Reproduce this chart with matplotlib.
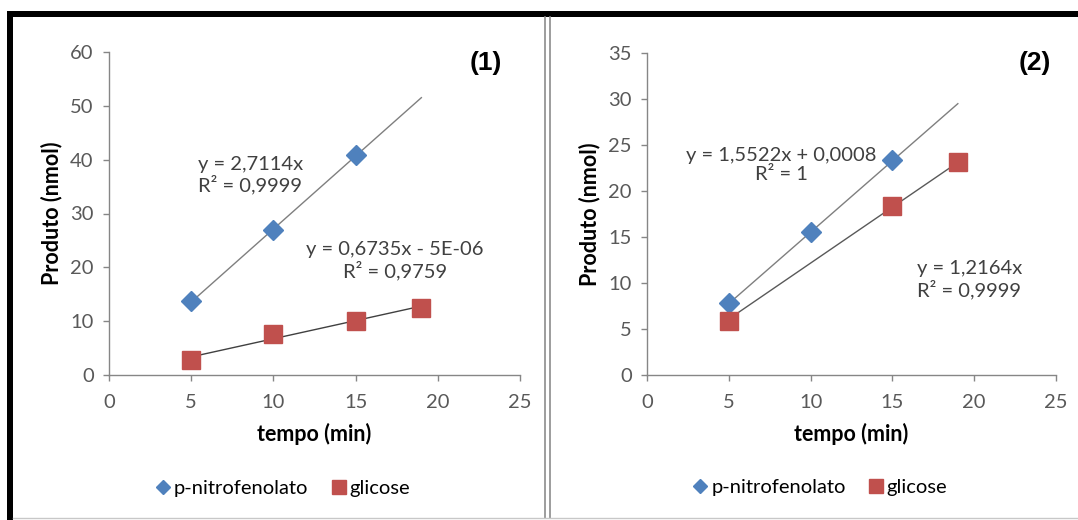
import matplotlib
matplotlib.use("Agg")
import matplotlib.pyplot as plt
import numpy as np
from matplotlib.lines import Line2D
from matplotlib.patches import Rectangle

plt.rcParams["font.family"] = ["Lato", "DejaVu Sans"]

# data
tempo_pnp_1 = [5, 10, 15]
pnp_1 = [13.8, 26.9, 40.9]
tempo_gli_1 = [5, 10, 15, 19]
gli_1 = [2.8, 7.6, 10.1, 12.5]

tempo_pnp_2 = [5, 10, 15]
pnp_2 = [7.8, 15.5, 23.4]
tempo_gli_2 = [5, 15, 19]
gli_2 = [5.9, 18.4, 23.1]

# trend lines as printed on the chart (slope, intercept)
fit_pnp_1 = (2.7114, 0.0)
fit_gli_1 = (0.6735, -5e-06)
fit_pnp_2 = (1.5522, 0.0008)
fit_gli_2 = (1.2164, 0.0)
trend_range = [5, 19]

BLUE = "#4F81BD"
RED = "#C0504D"
AXIS = "#868686"
TICKTXT = "#595959"
FS = 14.5


def style_axes(ax, ymax, ystep):
    ax.set_xlim(0, 25)
    ax.set_ylim(0, ymax)
    ax.set_xticks(range(0, 26, 5))
    ax.set_yticks(np.arange(0, ymax + 0.1, ystep))
    for side in ("top", "right"):
        ax.spines[side].set_visible(False)
    for side in ("left", "bottom"):
        ax.spines[side].set_color(AXIS)
        ax.spines[side].set_linewidth(1.0)
    ax.tick_params(direction="out", length=4, width=1, color=AXIS,
                   labelcolor=TICKTXT, labelsize=FS)
    ax.tick_params(axis="x", pad=10)
    ax.tick_params(axis="y", pad=7)
    ax.set_xlabel("tempo (min)", fontsize=15.5, fontweight="bold", labelpad=8)
    ax.set_ylabel("Produto (nmol)", fontsize=15.5, fontweight="bold", labelpad=6)
    ax.patch.set_alpha(0)


def trend(ax, fit, color):
    xs = np.array(trend_range, dtype=float)
    ax.plot(xs, fit[0] * xs + fit[1], color=color, lw=1.0, zorder=2)


def legend(ax, xc):
    handles = [
        Line2D([], [], ls="none", marker="D", ms=7, color=BLUE, label="p-nitrofenolato"),
        Line2D([], [], ls="none", marker="s", ms=10, color=RED, label="glicose"),
    ]
    ax.legend(handles=handles, loc="center", bbox_to_anchor=(xc, -0.35), ncol=2,
              frameon=False, fontsize=FS, handletextpad=0.05, columnspacing=1.0,
              handlelength=1.0)


fig = plt.figure(figsize=(10.78, 5.20), dpi=100)
fig.patch.set_facecolor("white")

ax1 = fig.add_axes([109 / 1078, 145 / 520, 411 / 1078, 323 / 520])
ax2 = fig.add_axes([647 / 1078, 145 / 520, 409 / 1078, 322 / 520])

# panel (1)
style_axes(ax1, 60, 10)
trend(ax1, fit_pnp_1, "#7f7f7f")
trend(ax1, fit_gli_1, "#404040")
ax1.plot(tempo_pnp_1, pnp_1, ls="none", marker="D", ms=10, color=BLUE, zorder=3)
ax1.plot(tempo_gli_1, gli_1, ls="none", marker="s", ms=13, color=RED, zorder=3)
ax1.text(5.4, 37.1, "y = 2,7114x\nR² = 0,9999", fontsize=FS, color="#404040",
         ha="left", va="center", linespacing=1.15)
ax1.text(17.4, 21.2, "y = 0,6735x - 5E-06\nR² = 0,9759", fontsize=FS, color="#404040",
         ha="center", va="center", multialignment="center", linespacing=1.15)
ax1.text(22.9, 58.0, "(1)", fontsize=19, fontweight="bold", family="Liberation Sans",
         ha="center", va="center")
legend(ax1, 0.42)

# panel (2)
style_axes(ax2, 35, 5)
trend(ax2, fit_pnp_2, "#7f7f7f")
trend(ax2, fit_gli_2, "#595959")
ax2.plot(tempo_pnp_2, pnp_2, ls="none", marker="D", ms=10, color=BLUE, zorder=3)
ax2.plot(tempo_gli_2, gli_2, ls="none", marker="s", ms=13, color=RED, zorder=3)
ax2.text(8.2, 22.8, "y = 1,5522x + 0,0008\nR² = 1", fontsize=FS, color="#404040",
         ha="center", va="center", multialignment="center", linespacing=1.15)
ax2.text(16.5, 10.4, "y = 1,2164x\nR² = 0,9999", fontsize=FS, color="#404040",
         ha="left", va="center", linespacing=1.15)
ax2.text(23.7, 33.9, "(2)", fontsize=19, fontweight="bold", family="Liberation Sans",
         ha="center", va="center")
legend(ax2, 0.42)

# frame around the two charts
W, H = 1078.0, 520.0
fig.add_artist(Rectangle((7 / W, (H - 17) / H), 1 - 7 / W, 6 / H,
                         transform=fig.transFigure, color="black", lw=0))
fig.add_artist(Rectangle((7 / W, 0), 6 / W, (H - 11) / H,
                         transform=fig.transFigure, color="black", lw=0))
for xp in (545, 550):
    fig.add_artist(Line2D([xp / W, xp / W], [2 / H, (H - 17) / H],
                          transform=fig.transFigure, color="#8c8c8c", lw=1.2))
fig.add_artist(Line2D([13 / W, 1], [2 / H, 2 / H], transform=fig.transFigure,
                      color="#c8c8c8", lw=1.0))

fig.savefig("out.png", dpi=100)
